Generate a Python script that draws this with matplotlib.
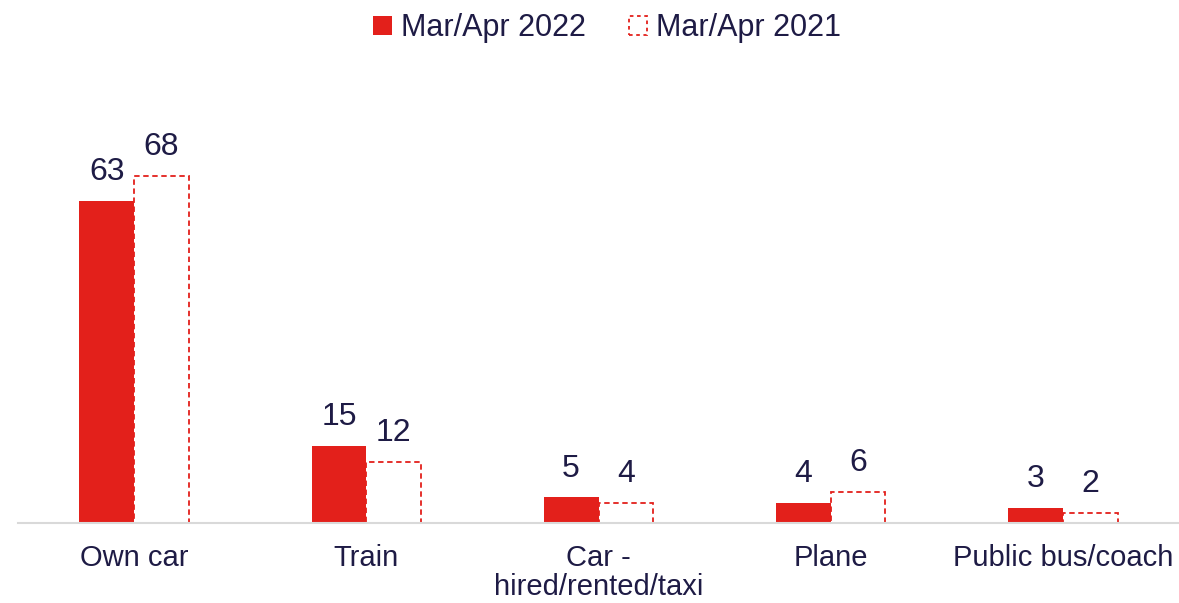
import numpy as np
import matplotlib.pyplot as plt
from matplotlib.patches import Patch

plt.rcParams['font.family'] = ['Liberation Sans', 'DejaVu Sans']

categories = ['Own car', 'Train', 'Car -\nhired/rented/taxi', 'Plane', 'Public bus/coach']
vals_2022 = [63, 15, 5, 4, 3]
vals_2021 = [68, 12, 4, 6, 2]
series_names = ['Mar/Apr 2022', 'Mar/Apr 2021']

red = '#e3201b'
text_col = '#1e1b45'

fig = plt.figure(figsize=(11.79, 6.03), dpi=100)
ax = fig.add_axes([18 / 1179, 80 / 603, 1161 / 1179, 423 / 603])

x = np.arange(len(categories))
w = 0.236
b1 = ax.bar(x - w / 2, vals_2022, w, color=red, edgecolor='none')
b2 = ax.bar(x + w / 2, vals_2021, w, facecolor='white', edgecolor=red,
            linestyle=(0, (3, 2)), linewidth=1.3)

for bars, vals in [(b1, vals_2022), (b2, vals_2021)]:
    for r, v in zip(bars, vals):
        ax.annotate(str(v), (r.get_x() + r.get_width() / 2, r.get_height()),
                    xytext=(0, 10), textcoords='offset points',
                    ha='center', va='bottom', fontsize=23, color=text_col)

ax.set_xlim(-0.5, len(categories) - 0.5)
ax.set_ylim(0, 82.8)
ax.set_xticks(x)
ax.set_xticklabels(categories, fontsize=21, color=text_col, linespacing=1.05)
ax.tick_params(axis='x', length=0, pad=15)
ax.set_yticks([])
for s in ['top', 'right', 'left']:
    ax.spines[s].set_visible(False)
ax.spines['bottom'].set_color('#d9d9d9')
ax.spines['bottom'].set_linewidth(1.5)

handles = [Patch(facecolor=red, edgecolor='none'),
           Patch(facecolor='white', edgecolor=red, linestyle=(0, (2, 2)), linewidth=1.3)]
fig.legend(handles, series_names, loc='center', bbox_to_anchor=(0.515, 0.953), ncol=2,
           frameon=False, fontsize=22, labelcolor=text_col,
           handlelength=0.6, handleheight=0.6, handletextpad=0.3, columnspacing=1.4)

fig.savefig('out.png', dpi=100)
